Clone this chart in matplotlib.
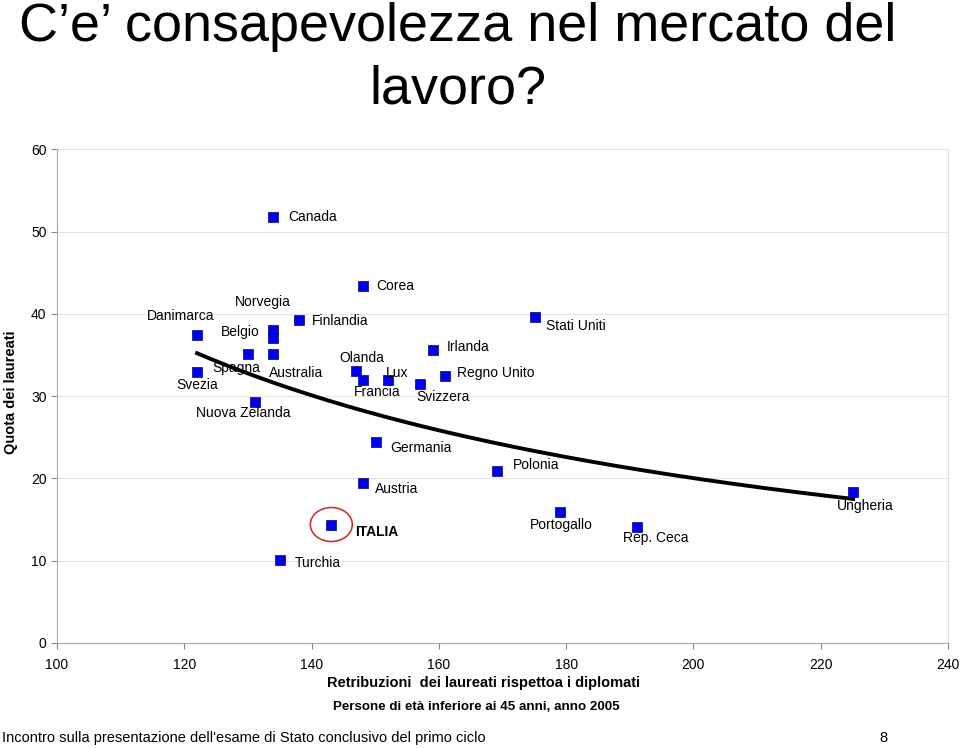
import matplotlib
matplotlib.use("Agg")
import matplotlib.pyplot as plt
from matplotlib.patches import Ellipse
from matplotlib.transforms import ScaledTranslation
import numpy as np

plt.rcParams['font.family'] = ['Liberation Sans', 'DejaVu Sans']

countries = ["Canada", "Corea", "Norvegia", "Belgio", "Danimarca", "Finlandia",
             "Spagna", "Australia", "Svezia", "Nuova Zelanda", "Olanda", "Francia",
             "Lux", "Svizzera", "Irlanda", "Regno Unito", "Stati Uniti", "Germania",
             "Austria", "ITALIA", "Polonia", "Portogallo", "Rep. Ceca", "Ungheria",
             "Turchia"]
retribuzioni = [133.9, 148.1, 133.9, 133.9, 122.0, 138.0,
                130.0, 133.9, 122.0, 131.1, 147.0, 148.1,
                152.0, 157.0, 159.1, 161.0, 175.1, 150.1,
                148.1, 143.1, 169.1, 179.0, 191.1, 225.1,
                135.0]
quota_laureati = [51.8, 43.4, 38.0, 37.1, 37.4, 39.3,
                  35.1, 35.1, 32.9, 29.3, 33.0, 32.0,
                  32.0, 31.5, 35.6, 32.4, 39.6, 24.4,
                  19.4, 14.4, 20.9, 15.9, 14.1, 18.4,
                  10.1]

# power trendline y = a * x^b
trend_a = 8459.0
trend_b = -1.141

x_ticks = [100, 120, 140, 160, 180, 200, 220, 240]
y_ticks = [0, 10, 20, 30, 40, 50, 60]

# label offsets in pixels (dx, dy, ha)
label_offsets = {
    "Canada": (16, 0, "left"), "Corea": (13, 0, "left"),
    "Norvegia": (-10, 28, "center"), "Belgio": (-32, 6, "center"),
    "Danimarca": (-16, 19, "center"), "Finlandia": (13, -1, "left"),
    "Spagna": (-12, -14, "center"), "Australia": (23, -19, "center"),
    "Svezia": (0, -13, "center"), "Nuova Zelanda": (-12, -11, "center"),
    "Olanda": (6, 13, "center"), "Francia": (14, -12, "center"),
    "Lux": (9, 7, "center"), "Svizzera": (23, -13, "center"),
    "Irlanda": (35, 3, "center"), "Regno Unito": (51, 3, "center"),
    "Stati Uniti": (41, -9, "center"), "Germania": (45, -6, "center"),
    "Austria": (34, -6, "center"), "ITALIA": (45, -7, "center"),
    "Polonia": (39, 6, "center"), "Portogallo": (2, -13, "center"),
    "Rep. Ceca": (19, -11, "center"), "Ungheria": (12, -14, "center"),
    "Turchia": (38, -3, "center"),
}

fig = plt.figure(figsize=(9.6, 7.48), dpi=100)
ax = fig.add_axes([57/960, 1-643/748, (948-57)/960, (643-149.3)/748])

ax.set_xlim(100, 240)
ax.set_ylim(0, 60)
ax.set_xticks(x_ticks)
ax.set_yticks(y_ticks)
ax.tick_params(axis='both', labelsize=10, colors='#888888', labelcolor='black',
               length=4, direction='out')
ax.tick_params(axis='x', pad=7)
ax.grid(axis='y', color='#e4e4e4', linewidth=0.8)
ax.set_axisbelow(True)
for s in ['left', 'bottom']:
    ax.spines[s].set_color('#aaaaaa')
ax.spines['right'].set_color('#dddddd')
ax.spines['top'].set_visible(False)

# trendline
xs = np.linspace(min(retribuzioni), max(retribuzioni), 200)
ax.plot(xs, trend_a * xs ** trend_b, color='black', linewidth=2.8, zorder=2)

ax.scatter(retribuzioni, quota_laureati, marker='s', s=44, color='#0000ee',
           edgecolors='#000080', linewidths=0.5, zorder=3)

for name, xv, yv in zip(countries, retribuzioni, quota_laureati):
    dx, dy, ha = label_offsets[name]
    ax.annotate(name, (xv, yv), xytext=(dx, dy), textcoords='offset pixels',
                ha=ha, va='center', fontsize=10,
                fontweight='bold' if name == "ITALIA" else 'normal', zorder=4)

# red circle around ITALIA
i_it = countries.index("ITALIA")
ell = Ellipse((0, 0), width=0.42, height=0.34, fill=False, edgecolor='#d03030',
              linewidth=1.2,
              transform=fig.dpi_scale_trans + ScaledTranslation(
                  retribuzioni[i_it], quota_laureati[i_it], ax.transData))
ax.add_artist(ell)

ax.set_ylabel("Quota dei laureati", fontsize=10.5, fontweight='bold')
ax.yaxis.set_label_coords(-0.044, 0.508)

fig.text(458/960, 1-27/748, "C’e’ consapevolezza nel mercato del", ha='center',
         va='center', fontsize=38.9)
fig.text(458/960, 1-90/748, "lavoro?", ha='center', va='center', fontsize=38.9)

fig.text(483/960, 1-683/748, "Retribuzioni  dei laureati rispettoa i diplomati",
         ha='center', va='center', fontsize=10.5, fontweight='bold')
fig.text(476/960, 1-707/748, "Persone di età inferiore ai 45 anni, anno 2005",
         ha='center', va='center', fontsize=9.6, fontweight='bold')
fig.text(2/960, 1-738/748,
         "Incontro sulla presentazione dell'esame di Stato conclusivo del primo ciclo",
         ha='left', va='center', fontsize=10.5)
fig.text(883/960, 1-738/748, "8", ha='center', va='center', fontsize=10.5)

fig.savefig("out.png", dpi=100)
